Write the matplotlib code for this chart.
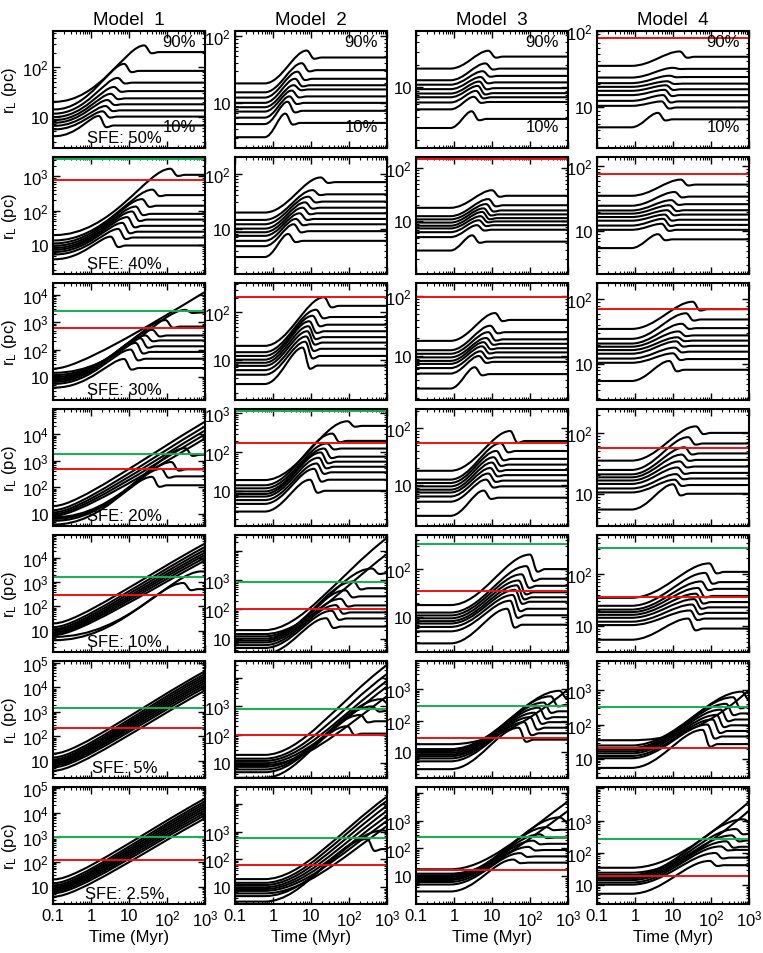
import numpy as np
import matplotlib
matplotlib.use("Agg")
import matplotlib.pyplot as plt
from matplotlib.path import Path
from matplotlib.patches import PathPatch
from matplotlib.ticker import LogLocator, FuncFormatter, NullFormatter

plt.rcParams['font.family'] = ['Liberation Sans', 'DejaVu Sans']
plt.rcParams['mathtext.default'] = 'regular'

MODELS = ["Model  1", "Model  2", "Model  3", "Model  4"]
SFE = ["SFE: 50%", "SFE: 40%", "SFE: 30%", "SFE: 20%", "SFE: 10%", "SFE: 5%", "SFE: 2.5%"]

# lagrangian radii 10% ... 90% : initial value, time of max, max, final value (pc, Myr)
# tpk = 1000 means the radius is still growing at the end
# ---- Model 1
M1_R0 = [4, 5.5, 6.5, 7.5, 8.5, 9.8, 11.5, 14, 20]
M1_TPK = [[1.6, 2.0, 2.4, 2.7, 3.3, 4.0, 5.0, 7.4, 25],
          [3.3, 5.2, 6.7, 9.0, 12, 15, 22, 41, 122],
          [7.4, 11, 15, 20, 27, 41, 91, 300, 1000],
          [40, 70, 130, 300, 1000, 1000, 1000, 1000, 1000],
          [270, 800, 1000, 1000, 1000, 1000, 1000, 1000, 1000],
          [1000, 1000, 1000, 1000, 1000, 1000, 1000, 1000, 1000],
          [1000, 1000, 1000, 1000, 1000, 1000, 1000, 1000, 1000]]
M1_RPK = [[10.3, 12.8, 16.4, 21.7, 29, 40, 61, 118, 280],
          [18, 30, 45, 66, 96, 133, 218, 410, 1650],
          [45, 100, 175, 260, 330, 530, 1210, 2870, 13200],
          [250, 500, 900, 3000, 7000, 10000, 14000, 20000, 30000],
          [930, 2800, 8000, 10500, 13500, 17000, 22000, 29000, 40000],
          [7500, 10000, 12500, 15500, 19000, 23500, 29000, 36000, 46000],
          [6000, 8000, 10000, 12500, 15500, 19000, 23500, 29000, 37600]]
M1_REND = [[6.6, 10, 13.4, 17.8, 23.5, 33, 49, 85, 205],
           [10, 17, 25, 37, 56, 82, 141, 285, 1100],
           [21, 46, 82, 132, 217, 330, 700, 2300, 13200],
           [120, 260, 480, 1700, 7000, 10000, 14000, 20000, 30000],
           [520, 2600, 8000, 10500, 13500, 17000, 22000, 29000, 40000],
           [7500, 10000, 12500, 15500, 19000, 23500, 29000, 36000, 46000],
           [6000, 8000, 10000, 12500, 15500, 19000, 23500, 29000, 37600]]
M1_YLIM = [(2.3, 550), (1.5, 3600), (1.4, 28000), (3.5, 90000), (1.3, 90000), (2, 120000), (2, 110000)]
M1_RED = [None, 805, 630, 480, 300, 230, 120]
M1_GREEN = [None, 3160, 2650, 1800, 1700, 1500, 1000]

# ---- Model 2
M2_R0 = [3.05, 4.8, 6.0, 7.4, 8.6, 10, 12, 14.4, 19.6]
M2_TPK = [[2.1, 2.4, 2.7, 3.1, 3.5, 3.8, 4.4, 5.7, 7.7],
          [2.5, 3.5, 4, 5, 6, 7, 8.5, 11, 18],
          [6, 7, 7.5, 8, 8.5, 9, 11, 13.5, 22],
          [9.4, 12, 14, 16, 18, 22, 26, 36, 91],
          [25, 35, 45, 60, 80, 130, 400, 1000, 1000],
          [90, 200, 400, 700, 1000, 1000, 1000, 1000, 1000],
          [300, 800, 1000, 1000, 1000, 1000, 1000, 1000, 1000]]
M2_RPK = [[6.9, 10.4, 12.5, 15.3, 18.4, 23, 29.4, 39.4, 61],
          [8, 12, 15, 19, 24, 30, 38, 50, 85],
          [18, 24, 31, 40, 51, 65, 85, 114, 210],
          [20, 38, 52, 73, 100, 126, 170, 304, 630],
          [50, 90, 140, 230, 450, 900, 2500, 7900, 28000],
          [200, 500, 1000, 1800, 2300, 5000, 8000, 14000, 29000],
          [540, 1100, 1600, 2450, 3700, 5600, 8500, 12800, 18000]]
M2_REND = [[5.0, 7.6, 10, 12.5, 15.9, 18.4, 23, 31, 48],
           [6, 9, 12, 15, 19, 24, 31, 42, 70],
           [7.5, 12, 17, 23, 30, 40, 55, 80, 138],
           [10.4, 20, 31, 43, 58, 78, 126, 198, 480],
           [26, 49, 79, 137, 280, 530, 1740, 7900, 28000],
           [110, 300, 700, 1300, 2300, 5000, 8000, 14000, 29000],
           [235, 960, 1600, 2450, 3700, 5600, 8500, 12800, 18000]]
M2_YLIM = [(2.1, 120), (1.5, 200), (1.4, 420), (1.3, 1300), (3.5, 35000), (3, 40000), (2.5, 40000)]
M2_RED = [None, None, 215, 170, 100, 100, 65]
M2_GREEN = [None, None, None, 1150, 900, 800, 600]

# ---- Model 3
M3_R0 = [2.87, 5.1, 6.3, 7.4, 8.3, 9.5, 10.9, 12.5, 17.9]
M3_TPK = [[2.9, 3.3, 3.8, 4.2, 4.6, 5.0, 5.7, 6.7, 8],
          [3, 4, 4.5, 5, 5.5, 6, 7, 8, 10],
          [3.5, 4.5, 5, 5.5, 6, 7, 8, 9, 12],
          [6, 7, 8, 9, 10, 11, 13, 17, 30],
          [25, 30, 35, 40, 45, 50, 60, 80, 100],
          [50, 70, 100, 130, 170, 230, 350, 600, 1000],
          [36, 55, 90, 120, 180, 270, 600, 1000, 1000]]
M3_RPK = [[4.8, 7.5, 9.0, 10.5, 12, 13.8, 16.5, 21, 31],
          [5.5, 8.5, 10.5, 12.5, 15, 17.5, 21, 26, 38],
          [6.5, 10, 12, 14.5, 17, 20, 25, 32, 52],
          [8, 12.5, 16, 20, 25, 31, 40, 55, 90],
          [15, 22, 29, 37, 46, 58, 78, 115, 200],
          [60, 90, 130, 180, 260, 380, 600, 900, 1000],
          [40, 68, 114, 190, 320, 580, 1300, 2240, 4900]]
M3_REND = [[3.8, 6.4, 7.4, 8.4, 9.8, 11.7, 14.3, 17.9, 25.9],
           [4.2, 7, 8.5, 10, 11.5, 13.5, 16, 20, 30],
           [5, 8, 9.5, 11.5, 13.5, 16, 19, 25, 40],
           [6, 9.5, 12, 15, 18.5, 23, 29, 40, 60],
           [7, 11, 15, 21, 26, 33, 45, 63, 100],
           [25, 40, 60, 90, 130, 200, 320, 550, 1000],
           [31, 52, 88, 147, 247, 470, 975, 2240, 4900]]
M3_YLIM = [(1.55, 57), (1.05, 158), (1.85, 165), (1.9, 220), (1.9, 510), (1.5, 8000), (1.02, 16000)]
M3_RED = [None, 145, 95, 55, 35, 28, 17]
M3_GREEN = [None, None, None, None, 330, 300, 250]

# ---- Model 4
M4_R0 = [5.5, 10.5, 12.2, 14.5, 16.5, 18.6, 20.8, 24.6, 35]
M4_TPK = [[4, 5, 5.5, 6, 6.5, 7, 8, 10, 15],
          [4, 5, 5.5, 6, 7, 8, 9, 11, 16],
          [8, 10, 11, 12, 13, 14, 17, 22, 33],
          [10, 11, 12, 13, 15, 17, 20, 25, 40],
          [25, 28, 32, 36, 40, 45, 55, 70, 90],
          [60, 80, 110, 140, 180, 250, 380, 650, 1000],
          [92, 130, 180, 250, 350, 450, 700, 1000, 1000]]
M4_RPK = [[8.5, 12, 14.5, 17, 19.5, 22, 26, 33, 54],
          [9, 13, 15.5, 18, 21, 25, 30, 40, 62],
          [11.2, 14.7, 18, 22.5, 26, 32, 42, 61, 92],
          [14.3, 17, 21, 27, 34, 44, 58, 85, 128],
          [14, 20, 26, 33, 42, 54, 72, 105, 160],
          [70, 100, 140, 190, 270, 400, 620, 900, 1000],
          [57, 100, 160, 230, 350, 550, 1100, 2030, 3800]]
M4_REND = [[7, 10, 12, 14.5, 17.3, 20.5, 25, 32, 46],
           [7.5, 10.5, 12.5, 15, 18, 21, 26, 34, 52],
           [8.2, 12, 15.6, 19.2, 23.1, 27.8, 36, 49, 70.6],
           [10, 13.9, 17.8, 22, 28, 36, 46, 67, 100],
           [9, 14, 18, 23, 29, 38, 52, 70, 110],
           [27, 45, 65, 95, 140, 210, 330, 550, 1000],
           [42, 72, 125, 156, 243, 400, 935, 2030, 3800]]
M4_YLIM = [(2.95, 100), (2.2, 138), (2.8, 179), (2.95, 247), (3.2, 560), (2.8, 7000), (2.65, 11000)]
M4_RED = [80, 75, 70.6, 57, 36, 21, 20]
M4_GREEN = [None, None, None, None, 316, 320, 277]

RISE_START = [0.11, 0.6, 0.8, 0.8]   # Myr, where the radii start to grow
RISE_A = [0.5, 0.4, 0.4, 0.4]        # shape of the rise (control point fractions)
RISE_B = [0.2, 0.3, 0.3, 0.3]
RISE_U = [0.15, 0.3, 0.3, 0.3]       # same, for radii that never turn over
SLOPE = [0.85, 1.0, 1.0, 1.0]        # log-log slope of unbound radii

MODEL_DATA = [(M1_R0, M1_TPK, M1_RPK, M1_REND, M1_YLIM, M1_RED, M1_GREEN),
              (M2_R0, M2_TPK, M2_RPK, M2_REND, M2_YLIM, M2_RED, M2_GREEN),
              (M3_R0, M3_TPK, M3_RPK, M3_REND, M3_YLIM, M3_RED, M3_GREEN),
              (M4_R0, M4_TPK, M4_RPK, M4_REND, M4_YLIM, M4_RED, M4_GREEN)]


def lagr_path(r0, tpk, rpk, rend, c):
    # flat start, then bezier pieces through the read anchors (control points in log space)
    lg = np.log10
    y0, xs = lg(r0), lg(RISE_START[c])
    pts = [(-1.0, y0), (xs, y0)]
    codes = [Path.MOVETO, Path.LINETO]
    if tpk >= 1000:
        y1 = lg(rend)
        span = 3.0 - xs
        x2 = xs + 0.6 * span
        pts += [(xs + RISE_U[c] * span, y0), (x2, y1 - SLOPE[c] * (3.0 - x2)), (3.0, y1)]
        codes += [Path.CURVE4] * 3
    else:
        xp, yp, ye = lg(tpk), lg(rpk), lg(rend)
        span = xp - xs
        w = 0.2
        xd, yd = xp + w, ye - 0.18 * (yp - ye)
        xe = xd + w
        pts += [(xs + RISE_A[c] * span, y0), (xp - RISE_B[c] * span, yp), (xp, yp),
                (xp + 0.4 * w, yp), (xd - 0.4 * w, yd), (xd, yd),
                (xd + 0.4 * w, yd), (xe - 0.4 * w, ye), (xe, ye),
                (max(xe, 3.05), ye)]
        codes += [Path.CURVE4] * 9 + [Path.LINETO]
    return Path(10.0 ** np.array(pts), codes)


def fmt(v, pos):
    if v < 0.5:
        return "0.1"
    e = int(round(np.log10(v)))
    if e == 0:
        return "1"
    if e == 1:
        return "10"
    return "$10^{%d}$" % e


def fmt_small(v, pos):
    # columns 2-4 carry no label above 10^3
    if v > 5000:
        return ""
    return fmt(v, pos)


W, H = 763, 954
fig = plt.figure(figsize=(W / 100, H / 100), dpi=100)

col_left = [53, 235, 416, 597]
row_top = [32, 158, 284, 410, 536, 662, 788]
pw, ph = 152, 117

for c in range(4):
    r0s, tpks, rpks, rends, ylims, reds, greens = MODEL_DATA[c]
    for r in range(7):
        ax = fig.add_axes([col_left[c] / W, 1 - (row_top[r] + ph) / H, pw / W, ph / H])
        ax.set_xscale('log')
        ax.set_yscale('log')
        ax.set_xlim(0.1, 1000)
        ax.set_ylim(*ylims[r])
        for i in range(9):
            p = lagr_path(r0s[i], tpks[r][i], rpks[r][i], rends[r][i], c)
            ax.add_patch(PathPatch(p, fill=False, edgecolor='black', lw=1.5,
                                   capstyle='butt', joinstyle='round'))
        if greens[r] is not None:
            ax.axhline(greens[r], color='#11b050', lw=1.4)
        if reds[r] is not None:
            ax.axhline(reds[r], color='#f01010', lw=1.4)

        ax.xaxis.set_major_locator(LogLocator(base=10, numticks=10))
        ax.yaxis.set_major_locator(LogLocator(base=10, numticks=10))
        ax.xaxis.set_minor_locator(LogLocator(base=10, subs=np.arange(2, 10), numticks=20))
        ax.yaxis.set_minor_locator(LogLocator(base=10, subs=np.arange(2, 10), numticks=20))
        ax.yaxis.set_major_formatter(FuncFormatter(fmt if c == 0 else fmt_small))
        ax.yaxis.set_minor_formatter(NullFormatter())
        ax.xaxis.set_minor_formatter(NullFormatter())
        if r == 6:
            ax.xaxis.set_major_formatter(FuncFormatter(fmt))
            ax.set_xlabel("Time (Myr)", fontsize=12, labelpad=1)
        else:
            ax.xaxis.set_major_formatter(NullFormatter())
        ax.tick_params(which='both', direction='in', top=True, right=True, labelsize=12, pad=3)
        ax.tick_params(which='major', length=5, width=1)
        ax.tick_params(which='minor', length=2.5, width=0.8)
        for s in ax.spines.values():
            s.set_linewidth(1.5)

        if c == 0:
            ax.set_ylabel("r$_L$ (pc)", fontsize=12, labelpad=2)
            ax.text(0.47, 0.09, SFE[r], transform=ax.transAxes, ha='center', va='center', fontsize=12)
        if r == 0:
            ax.set_title(MODELS[c], fontsize=13.5, pad=5)
            ax.text(0.94, 0.91, "90%", transform=ax.transAxes, ha='right', va='center', fontsize=12)
            ax.text(0.94, 0.18, "10%", transform=ax.transAxes, ha='right', va='center', fontsize=12)

fig.savefig("out.png", dpi=100)
